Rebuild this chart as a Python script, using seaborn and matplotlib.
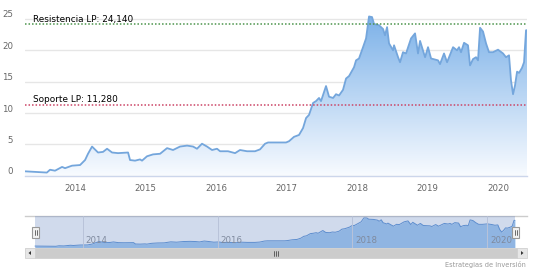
import numpy as np
import pandas as pd
import matplotlib
matplotlib.use("Agg")
import matplotlib.pyplot as plt
import seaborn as sns
from matplotlib.patches import Rectangle, Polygon
from matplotlib.lines import Line2D
from matplotlib.colors import LinearSegmentedColormap
from matplotlib.transforms import ScaledTranslation, blended_transform_factory

# ---------------- data ----------------
years = [2013.29, 2013.60, 2013.645, 2013.716, 2013.816, 2013.858, 2013.957, 2014.071, 2014.142, 2014.184,
         2014.241, 2014.326, 2014.397, 2014.454, 2014.525, 2014.610, 2014.752, 2014.780, 2014.851, 2014.922,
         2014.950, 2015.021, 2015.106, 2015.206, 2015.305, 2015.390, 2015.489, 2015.589, 2015.674, 2015.730,
         2015.801, 2015.872, 2015.943, 2016.014, 2016.057, 2016.170, 2016.270, 2016.340, 2016.440, 2016.553,
         2016.624, 2016.695, 2016.738, 2016.809, 2016.993, 2017.035, 2017.106, 2017.177, 2017.234, 2017.277,
         2017.319, 2017.376, 2017.418, 2017.461, 2017.489, 2017.560, 2017.603, 2017.660, 2017.702, 2017.745,
         2017.801, 2017.844, 2017.887, 2017.957, 2017.986, 2018.028, 2018.085, 2018.128, 2018.170, 2018.213,
         2018.241, 2018.312, 2018.369, 2018.397, 2018.426, 2018.454, 2018.511, 2018.525, 2018.582, 2018.610,
         2018.652, 2018.695, 2018.766, 2018.823, 2018.865, 2018.894, 2018.965, 2019.007, 2019.050, 2019.149,
         2019.177, 2019.234, 2019.277, 2019.362, 2019.418, 2019.447, 2019.475, 2019.518, 2019.574, 2019.603,
         2019.645, 2019.688, 2019.716, 2019.745, 2019.787, 2019.830, 2019.872, 2019.929, 2020.000, 2020.071,
         2020.113, 2020.156, 2020.184, 2020.213, 2020.241, 2020.270, 2020.298, 2020.340, 2020.369, 2020.397,
         2020.411]
values = [0.7, 0.5, 0.95, 0.8, 1.4, 1.2, 1.6, 1.7, 2.5, 3.5,
          4.65, 3.7, 3.8, 4.3, 3.7, 3.6, 3.7, 2.5, 2.4, 2.6,
          2.4, 3.1, 3.4, 3.5, 4.4, 4.1, 4.65, 4.8, 4.65, 4.3,
          5.1, 4.65, 4.1, 4.3, 3.9, 3.9, 3.6, 4.1, 3.9, 3.9,
          4.2, 5.1, 5.3, 5.3, 5.3, 5.5, 6.2, 6.5, 7.6, 9.2,
          9.7, 11.6, 11.9, 12.4, 11.9, 14.3, 12.6, 12.4, 13.0, 12.8,
          13.7, 15.5, 15.9, 17.3, 18.4, 18.7, 20.5, 21.9, 25.4, 25.3,
          24.2, 24.0, 23.4, 22.4, 23.7, 21.1, 20.0, 20.8, 18.9, 18.1,
          19.7, 19.5, 21.9, 22.7, 19.5, 21.5, 18.9, 20.5, 18.7, 18.4,
          17.8, 19.5, 18.1, 20.5, 20.0, 20.5, 19.7, 21.2, 20.8, 17.6,
          18.6, 18.9, 18.4, 23.6, 23.0, 21.1, 19.7, 19.7, 20.1, 19.5,
          18.9, 19.2, 15.2, 13.0, 14.4, 16.6, 16.4, 17.2, 18.1, 23.2,
          23.2]
resistance_value = 24.14
support_value = 11.28
resistance_label = "Resistencia LP: 24,140"
support_label = "Soporte LP: 11,280"
y_ticks = [0, 5, 10, 15, 20, 25]
x_ticks = [2014, 2015, 2016, 2017, 2018, 2019, 2020]
nav_ticks = [2014, 2016, 2018, 2020]
credit = "Estrategias de Inversión"

df = pd.DataFrame({"year": years, "value": values})

# ---------------- style ----------------
sns.set_style("white")
plt.rcParams["font.family"] = ["DejaVu Sans"]

W, H = 536, 272
fig = plt.figure(figsize=(W / 100, H / 100), dpi=100)
fig.patch.set_facecolor("white")


def fx(px):
    return px / W


def fy(py):
    return 1 - py / H


# ---------------- main chart ----------------
Y0, YTOP = 175.7, 12.7
YMAX = 26
ax = fig.add_axes([fx(25), fy(Y0), fx(527) - fx(25), fy(YTOP) - fy(Y0)])
x0, x1 = years[0], years[-1]
ax.set_xlim(x0, x1)
ax.set_ylim(0, YMAX)

for v in y_ticks:
    ax.axhline(v, color="#e6e6e6", lw=1, zorder=0)

poly = ax.fill_between(df["year"], df["value"], 0, color="none", lw=0)
cmap = LinearSegmentedColormap.from_list("g", ["#f8fbff", "#7ab0e8"])
grad = np.linspace(0, 1, 256).reshape(-1, 1)
im = ax.imshow(grad, extent=[x0, x1, 0, YMAX], origin="lower", aspect="auto",
               cmap=cmap, zorder=1, interpolation="bilinear")
im.set_clip_path(poly.get_paths()[0], ax.transData)
ax.set_xlim(x0, x1)
ax.set_ylim(0, YMAX)

sns.lineplot(data=df, x="year", y="value", ax=ax, color="#74a6dc", lw=1.3,
             zorder=3, legend=False)

ax.axhline(resistance_value, color="#4c944c", ls=(0, (1, 1.3)), lw=1.1, zorder=4)
ax.axhline(support_value, color="#cc4466", ls=(0, (1, 1.3)), lw=1.1, zorder=4)

bt = blended_transform_factory(ax.transAxes, ax.transData)
ax.text(8 / 502, resistance_value + 0.42, resistance_label, transform=bt,
        fontsize=6.4, color="black", ha="left", va="baseline", zorder=5)
ax.text(8 / 502, support_value + 0.42, support_label, transform=bt,
        fontsize=6.4, color="black", ha="left", va="baseline", zorder=5)

for s in ["top", "right", "left"]:
    ax.spines[s].set_visible(False)
ax.spines["bottom"].set_color("#ccd6eb")
ax.spines["bottom"].set_linewidth(1)
ax.set_xticks(x_ticks)
ax.set_xticklabels([str(t) for t in x_ticks])
ax.set_yticks(y_ticks)
ax.set_yticklabels([str(t) for t in y_ticks])
ax.tick_params(axis="x", direction="out", length=3.6, width=0.8, color="#ccd6eb",
               labelsize=6.2, labelcolor="#666666", pad=2.5)
ax.tick_params(axis="y", length=0, labelsize=6.2, labelcolor="#666666", pad=8.6)
for lab in ax.get_yticklabels():
    lab.set_transform(lab.get_transform() + ScaledTranslation(0, 0.05, fig.dpi_scale_trans))
ax.set_xlabel("")
ax.set_ylabel("")
ax.grid(False)

# ---------------- navigator ----------------
nav = fig.add_axes([fx(25), fy(248), fx(527) - fx(25), fy(216) - fy(248)])
per_px = (x1 - x0) / 480.0
nav.set_xlim(x0 - 10 * per_px, x1 + 12 * per_px)
nav.set_ylim(-1, 27)
nav.fill_between(df["year"], df["value"], -1, color="#7cb5ec", alpha=0.7, lw=0, zorder=2)
sns.lineplot(data=df, x="year", y="value", ax=nav, color="#5a92d4", lw=0.7,
             zorder=2.5, legend=False)
nav.axvspan(x0, x1, color=(102 / 255, 133 / 255, 194 / 255, 0.3), lw=0, zorder=3)
for t in nav_ticks:
    nav.axvline(t, color="#b9c3d9", lw=0.7, zorder=3.5)
nbt = blended_transform_factory(nav.transData, nav.transAxes)
for t in nav_ticks:
    nav.text(t, 0.22, str(t), transform=nbt + ScaledTranslation(0.03, 0, fig.dpi_scale_trans),
             fontsize=6.2, color="#7f8a9e", ha="left", va="center", zorder=4)
nav.set_xticks([])
nav.set_yticks([])
nav.set_xlabel("")
nav.set_ylabel("")
for s in ["bottom", "right", "left"]:
    nav.spines[s].set_visible(False)
nav.spines["top"].set_color("#cccccc")
nav.spines["top"].set_linewidth(1)


def rect(px0, py0, px1, py1, **kw):
    r = Rectangle((fx(px0), fy(py1)), fx(px1) - fx(px0), fy(py0) - fy(py1),
                  transform=fig.transFigure, **kw)
    fig.add_artist(r)
    return r


def line(pxs, pys, **kw):
    fig.add_artist(Line2D([fx(p) for p in pxs], [fy(p) for p in pys],
                          transform=fig.transFigure, **kw))


# handles
for hx in (35.5, 515.5):
    rect(hx - 3.5, 226.5, hx + 3.5, 237.5, facecolor="#f2f2f2", edgecolor="#999999", lw=0.8, zorder=10)
    line([hx - 1, hx - 1], [229.5, 234.5], color="#333333", lw=0.5, zorder=11)
    line([hx + 1, hx + 1], [229.5, 234.5], color="#333333", lw=0.5, zorder=11)

# ---------------- scrollbar ----------------
rect(25, 248, 527, 258, facecolor="#f2f2f2", edgecolor="none", zorder=5)
rect(35, 248, 517, 258, facecolor="#cccccc", edgecolor="#cccccc", lw=0.5, zorder=6)
rect(25, 248, 35, 258, facecolor="#e6e6e6", edgecolor="#cccccc", lw=0.5, zorder=6)
rect(517, 248, 527, 258, facecolor="#e6e6e6", edgecolor="#cccccc", lw=0.5, zorder=6)
fig.add_artist(Polygon([(fx(28.5), fy(253)), (fx(31), fy(251)), (fx(31), fy(255))],
                       closed=True, transform=fig.transFigure, facecolor="#333333",
                       edgecolor="none", zorder=7))
fig.add_artist(Polygon([(fx(523.5), fy(253)), (fx(521), fy(251)), (fx(521), fy(255))],
                       closed=True, transform=fig.transFigure, facecolor="#333333",
                       edgecolor="none", zorder=7))
for gx in (274, 276, 278):
    line([gx, gx], [250.5, 255.5], color="#333333", lw=0.5, zorder=7)

fig.text(fx(526), fy(265), credit, ha="right", va="center", fontsize=4.8, color="#999999")

fig.savefig("out.png", dpi=100, facecolor="white")
